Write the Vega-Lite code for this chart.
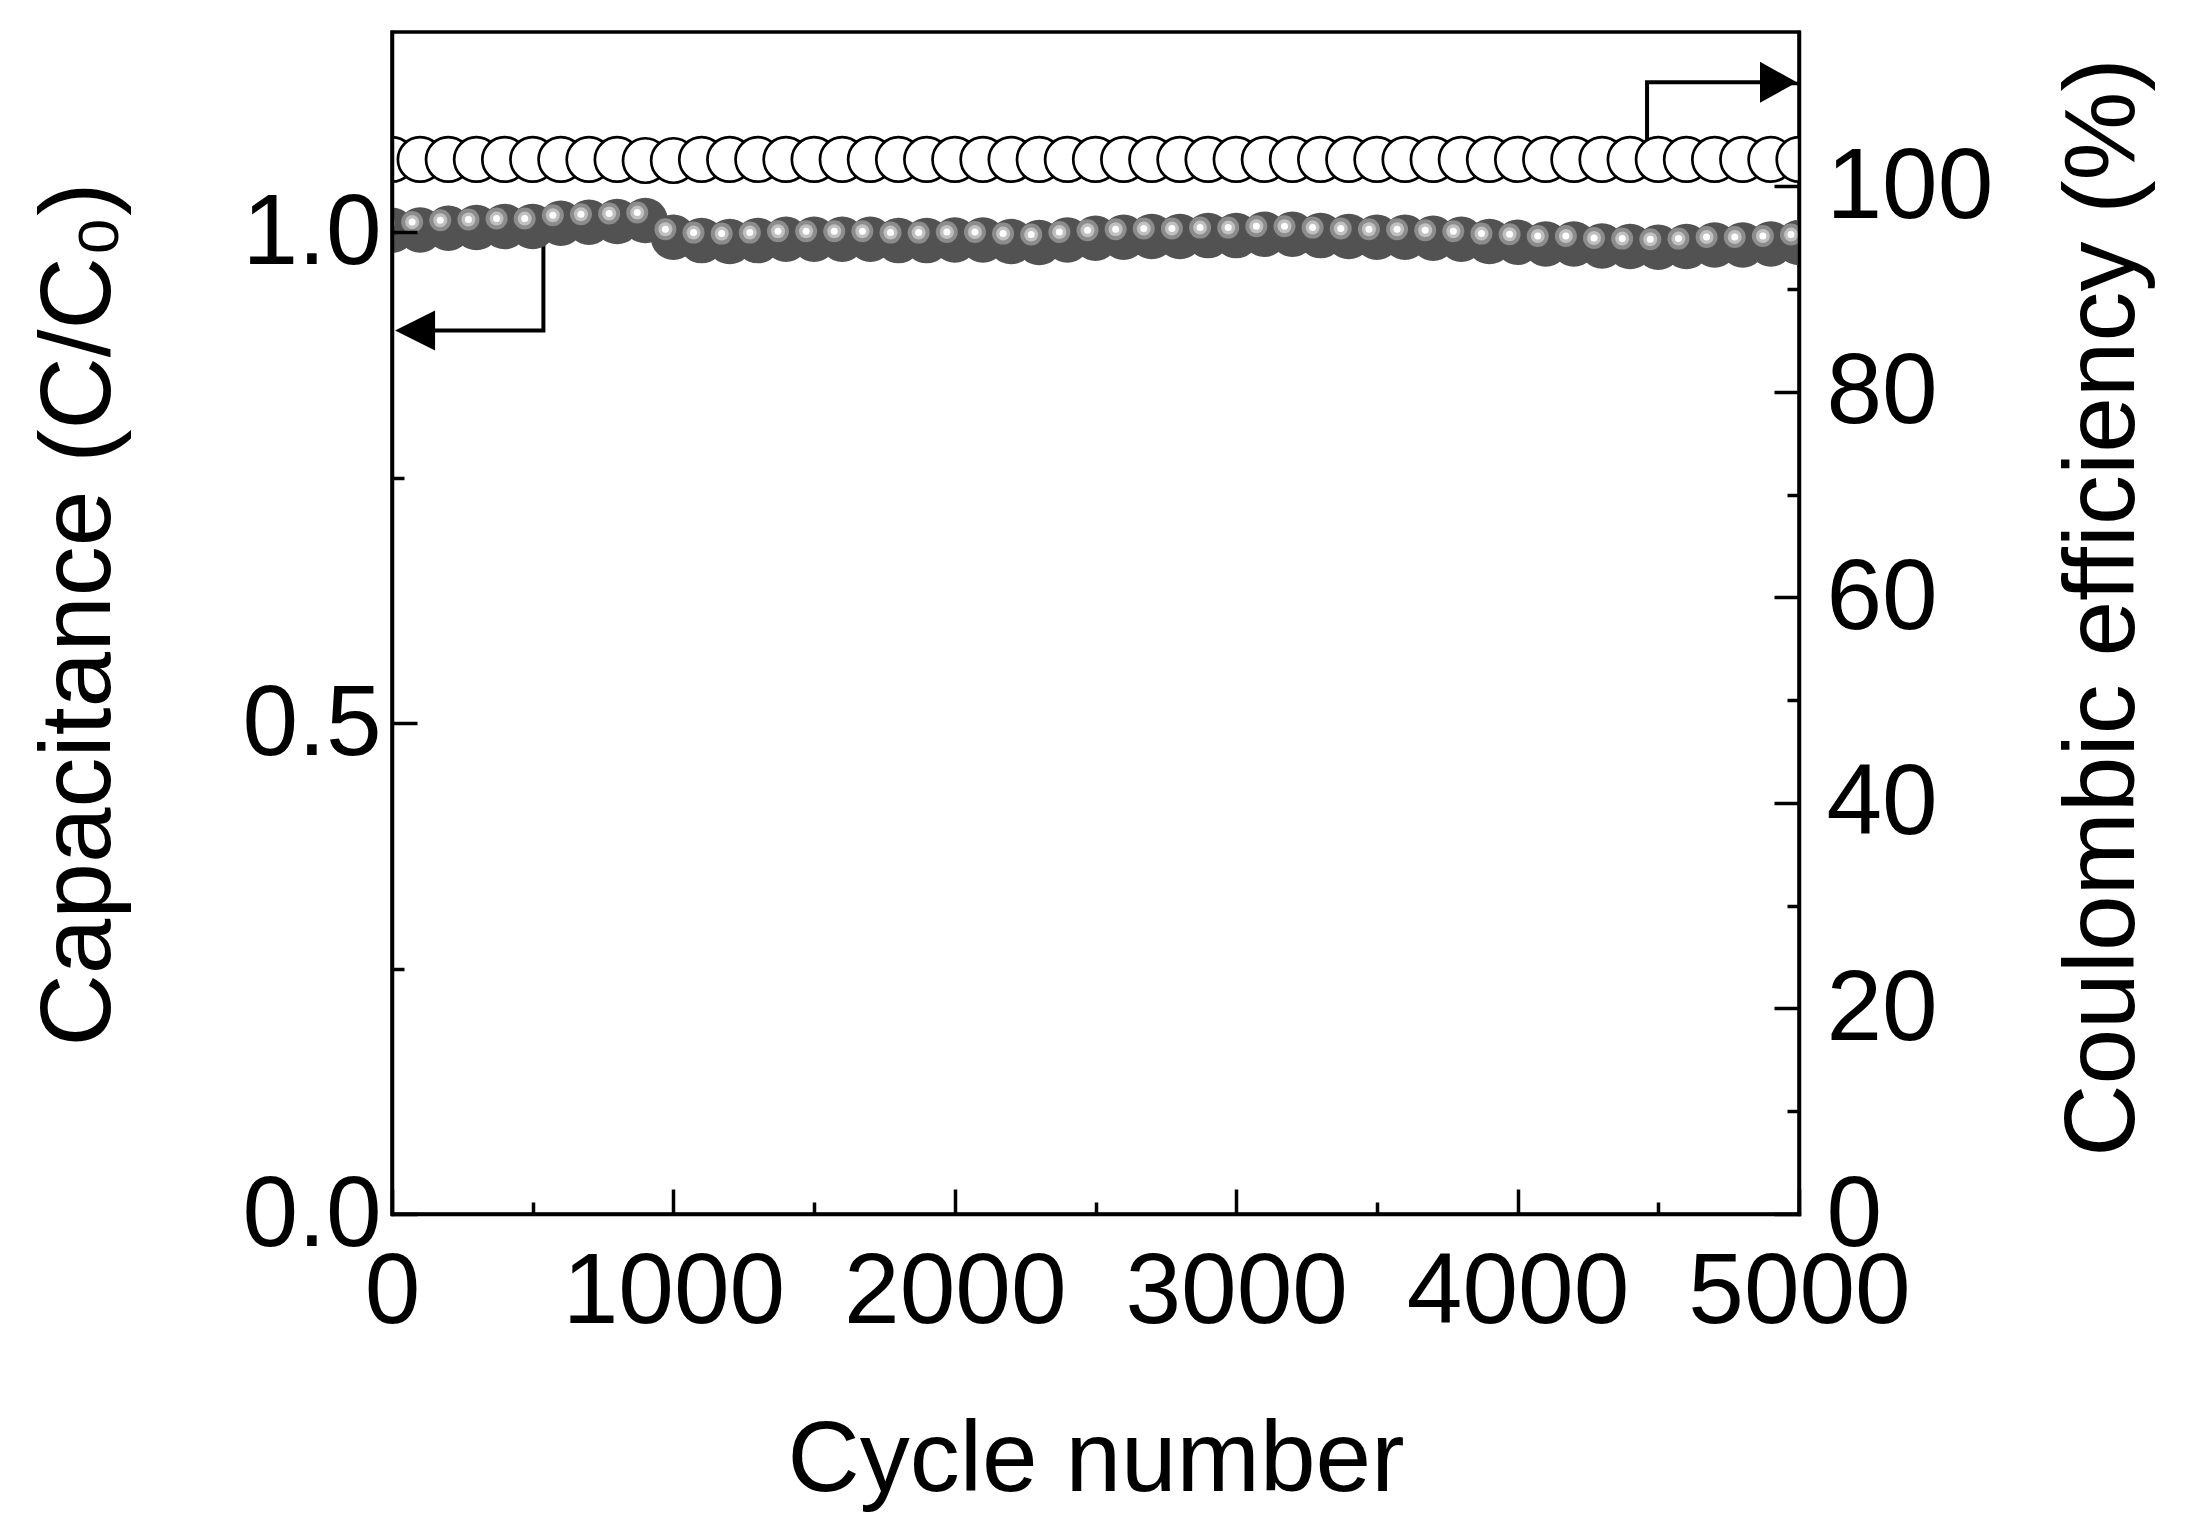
{
  "$schema": "https://vega.github.io/schema/vega-lite/v6.json",
  "width": 1407,
  "height": 1182,
  "autosize": {"type": "none"},
  "padding": {"left": 392, "top": 32, "right": 390, "bottom": 323},
  "background": "white",
  "datasets": {
    "main": [
      {"cycle": 0, "cap": 1.002, "ce": 102.6},
      {"cycle": 100, "cap": 1.0023, "ce": 102.6},
      {"cycle": 200, "cap": 1.0041, "ce": 102.6},
      {"cycle": 300, "cap": 1.0048, "ce": 102.6},
      {"cycle": 400, "cap": 1.0058, "ce": 102.6},
      {"cycle": 500, "cap": 1.0058, "ce": 102.6},
      {"cycle": 600, "cap": 1.0092, "ce": 102.6},
      {"cycle": 700, "cap": 1.0102, "ce": 102.6},
      {"cycle": 800, "cap": 1.0109, "ce": 102.6},
      {"cycle": 900, "cap": 1.0119, "ce": 102.5},
      {"cycle": 1000, "cap": 0.9949, "ce": 102.5},
      {"cycle": 1100, "cap": 0.9915, "ce": 102.6},
      {"cycle": 1200, "cap": 0.9905, "ce": 102.6},
      {"cycle": 1300, "cap": 0.9915, "ce": 102.6},
      {"cycle": 1400, "cap": 0.9929, "ce": 102.6},
      {"cycle": 1500, "cap": 0.9929, "ce": 102.6},
      {"cycle": 1600, "cap": 0.9929, "ce": 102.6},
      {"cycle": 1700, "cap": 0.9929, "ce": 102.6},
      {"cycle": 1800, "cap": 0.9915, "ce": 102.6},
      {"cycle": 1900, "cap": 0.9915, "ce": 102.6},
      {"cycle": 2000, "cap": 0.9921, "ce": 102.6},
      {"cycle": 2100, "cap": 0.9921, "ce": 102.6},
      {"cycle": 2200, "cap": 0.9905, "ce": 102.6},
      {"cycle": 2300, "cap": 0.9895, "ce": 102.6},
      {"cycle": 2400, "cap": 0.9921, "ce": 102.6},
      {"cycle": 2500, "cap": 0.9939, "ce": 102.6},
      {"cycle": 2600, "cap": 0.9949, "ce": 102.6},
      {"cycle": 2700, "cap": 0.9956, "ce": 102.6},
      {"cycle": 2800, "cap": 0.9956, "ce": 102.6},
      {"cycle": 2900, "cap": 0.9966, "ce": 102.6},
      {"cycle": 3000, "cap": 0.9966, "ce": 102.6},
      {"cycle": 3100, "cap": 0.998, "ce": 102.6},
      {"cycle": 3200, "cap": 0.998, "ce": 102.6},
      {"cycle": 3300, "cap": 0.9966, "ce": 102.6},
      {"cycle": 3400, "cap": 0.9956, "ce": 102.6},
      {"cycle": 3500, "cap": 0.9949, "ce": 102.6},
      {"cycle": 3600, "cap": 0.9949, "ce": 102.6},
      {"cycle": 3700, "cap": 0.9939, "ce": 102.6},
      {"cycle": 3800, "cap": 0.9929, "ce": 102.6},
      {"cycle": 3900, "cap": 0.9905, "ce": 102.6},
      {"cycle": 4000, "cap": 0.9898, "ce": 102.6},
      {"cycle": 4100, "cap": 0.9881, "ce": 102.6},
      {"cycle": 4200, "cap": 0.9881, "ce": 102.6},
      {"cycle": 4300, "cap": 0.986, "ce": 102.6},
      {"cycle": 4400, "cap": 0.9854, "ce": 102.6},
      {"cycle": 4500, "cap": 0.9847, "ce": 102.6},
      {"cycle": 4600, "cap": 0.9854, "ce": 102.6},
      {"cycle": 4700, "cap": 0.9871, "ce": 102.6},
      {"cycle": 4800, "cap": 0.9871, "ce": 102.6},
      {"cycle": 4900, "cap": 0.9881, "ce": 102.6},
      {"cycle": 5000, "cap": 0.9895, "ce": 102.6}
    ],
    "arrowL": [
      {"cycle": 538, "cap": 0.995, "o": 1},
      {"cycle": 538, "cap": 0.9, "o": 2},
      {"cycle": 82, "cap": 0.9, "o": 3}
    ],
    "arrowR": [
      {"cycle": 4460, "ce": 104, "o": 1},
      {"cycle": 4460, "ce": 110.1, "o": 2},
      {"cycle": 4927, "ce": 110.1, "o": 3}
    ],
    "triL": [{"cycle": 82, "cap": 0.9}],
    "triR": [{"cycle": 4927, "ce": 110.1}]
  },
  "resolve": {
    "scale": {"y": "independent"},
    "axis": {"x": "independent", "y": "independent"}
  },
  "layer": [
    {
      "data": {"name": "arrowL"},
      "mark": {"type": "line", "color": "black", "strokeWidth": 4, "strokeJoin": "miter"},
      "encoding": {
        "x": {"field": "cycle", "type": "quantitative", "scale": {"domain": [0, 5000], "nice": false, "zero": false}, "axis": null},
        "y": {"field": "cap", "type": "quantitative", "scale": {"domain": [0, 1.204], "nice": false, "zero": false}, "axis": null},
        "order": {"field": "o"}
      }
    },
    {
      "data": {"name": "main"},
      "mark": {"type": "circle", "size": 2070, "color": "#525252", "opacity": 1, "clip": true},
      "encoding": {
        "x": {"field": "cycle", "type": "quantitative", "scale": {"domain": [0, 5000], "nice": false, "zero": false},
          "axis": {"orient": "bottom", "values": [0, 1000, 2000, 3000, 4000, 5000], "format": "d", "tickSize": -25, "labelPadding": 54, "title": "Cycle number", "titleY": 276, "titleBaseline": "alphabetic", "zindex": 1}},
        "y": {"field": "cap", "type": "quantitative", "scale": {"domain": [0, 1.204], "nice": false, "zero": false},
          "axis": {"orient": "left", "values": [0, 0.5, 1], "format": ".1f", "tickSize": -25, "labelPadding": 36, "labelOffset": 1, "title": "Capacitance (C/C₀)", "titleAngle": 270, "titleX": -283, "titleY": 582, "titleBaseline": "alphabetic", "titleAlign": "center", "zindex": 1}}
      }
    },
    {
      "data": {"name": "main"},
      "mark": {"type": "circle", "size": 484, "color": "#8c8c8c", "opacity": 1, "clip": true, "xOffset": -8, "yOffset": -8},
      "encoding": {
        "x": {"field": "cycle", "type": "quantitative", "scale": {"domain": [0, 5000], "nice": false, "zero": false},
          "axis": {"orient": "bottom", "values": [500, 1500, 2500, 3500, 4500], "labels": false, "domain": false, "tickSize": -12, "title": null, "zindex": 1}},
        "y": {"field": "cap", "type": "quantitative", "scale": {"domain": [0, 1.204], "nice": false, "zero": false},
          "axis": {"orient": "left", "values": [0.25, 0.75], "labels": false, "domain": false, "tickSize": -12, "title": null, "zindex": 1}}
      }
    },
    {
      "data": {"name": "main"},
      "mark": {"type": "circle", "size": 196, "color": "#c0c0c0", "opacity": 1, "clip": true, "xOffset": -8, "yOffset": -8},
      "encoding": {
        "x": {"field": "cycle", "type": "quantitative", "scale": {"domain": [0, 5000], "nice": false, "zero": false}, "axis": null},
        "y": {"field": "cap", "type": "quantitative", "scale": {"domain": [0, 1.204], "nice": false, "zero": false}, "axis": null}
      }
    },
    {
      "data": {"name": "main"},
      "mark": {"type": "circle", "size": 49, "color": "#ffffff", "opacity": 1, "clip": true, "xOffset": -8, "yOffset": -8},
      "encoding": {
        "x": {"field": "cycle", "type": "quantitative", "scale": {"domain": [0, 5000], "nice": false, "zero": false}, "axis": null},
        "y": {"field": "cap", "type": "quantitative", "scale": {"domain": [0, 1.204], "nice": false, "zero": false}, "axis": null}
      }
    },
    {
      "data": {"name": "arrowR"},
      "mark": {"type": "line", "color": "black", "strokeWidth": 4, "strokeJoin": "miter"},
      "encoding": {
        "x": {"field": "cycle", "type": "quantitative", "scale": {"domain": [0, 5000], "nice": false, "zero": false}, "axis": null},
        "y": {"field": "ce", "type": "quantitative", "scale": {"domain": [0, 115], "nice": false, "zero": false},
          "axis": {"orient": "right", "values": [10, 30, 50, 70, 90, 110], "labels": false, "domain": false, "tickSize": -12, "title": null, "zindex": 1}},
        "order": {"field": "o"}
      }
    },
    {
      "data": {"name": "main"},
      "mark": {"type": "circle", "size": 1980, "fill": "white", "stroke": "black", "strokeWidth": 2.7, "opacity": 1, "fillOpacity": 1, "strokeOpacity": 1, "clip": true},
      "encoding": {
        "x": {"field": "cycle", "type": "quantitative", "scale": {"domain": [0, 5000], "nice": false, "zero": false}, "axis": null},
        "y": {"field": "ce", "type": "quantitative", "scale": {"domain": [0, 115], "nice": false, "zero": false},
          "axis": {"orient": "right", "values": [0, 20, 40, 60, 80, 100], "format": "d", "tickSize": -25, "labelPadding": 52, "labelOffset": 1, "title": "Coulombic efficiency (%)", "titleAngle": 270, "titleX": 334, "titleY": 575, "titleBaseline": "alphabetic", "titleAlign": "center", "zindex": 1}}
      }
    },
    {
      "data": {"name": "triL"},
      "mark": {"type": "point", "shape": "M -1 0 L 1 -1 L 1 1 Z", "filled": true, "color": "black", "size": 1600, "opacity": 1, "strokeWidth": 0},
      "encoding": {
        "x": {"field": "cycle", "type": "quantitative", "scale": {"domain": [0, 5000], "nice": false, "zero": false}, "axis": null},
        "y": {"field": "cap", "type": "quantitative", "scale": {"domain": [0, 1.204], "nice": false, "zero": false}, "axis": null}
      }
    },
    {
      "data": {"name": "triR"},
      "mark": {"type": "point", "shape": "M 0.9 0 L -0.9 -1 L -0.9 1 Z", "filled": true, "color": "black", "size": 1681, "opacity": 1, "strokeWidth": 0},
      "encoding": {
        "x": {"field": "cycle", "type": "quantitative", "scale": {"domain": [0, 5000], "nice": false, "zero": false}, "axis": null},
        "y": {"field": "ce", "type": "quantitative", "scale": {"domain": [0, 115], "nice": false, "zero": false}, "axis": null}
      }
    }
  ],
  "config": {
    "view": {"stroke": "black", "strokeWidth": 3.5},
    "axis": {
      "domainColor": "black", "domainWidth": 3.5, "domainCap": "square",
      "tickColor": "black", "tickWidth": 3.5,
      "labelColor": "black", "titleColor": "black",
      "labelFont": "Liberation Sans", "titleFont": "Liberation Sans",
      "labelFontSize": 100, "titleFontSize": 100, "titleFontWeight": "normal",
      "labelLimit": 1000, "titleLimit": 2000,
      "grid": false, "labelFlush": false, "labelOverlap": false
    }
  }
}
